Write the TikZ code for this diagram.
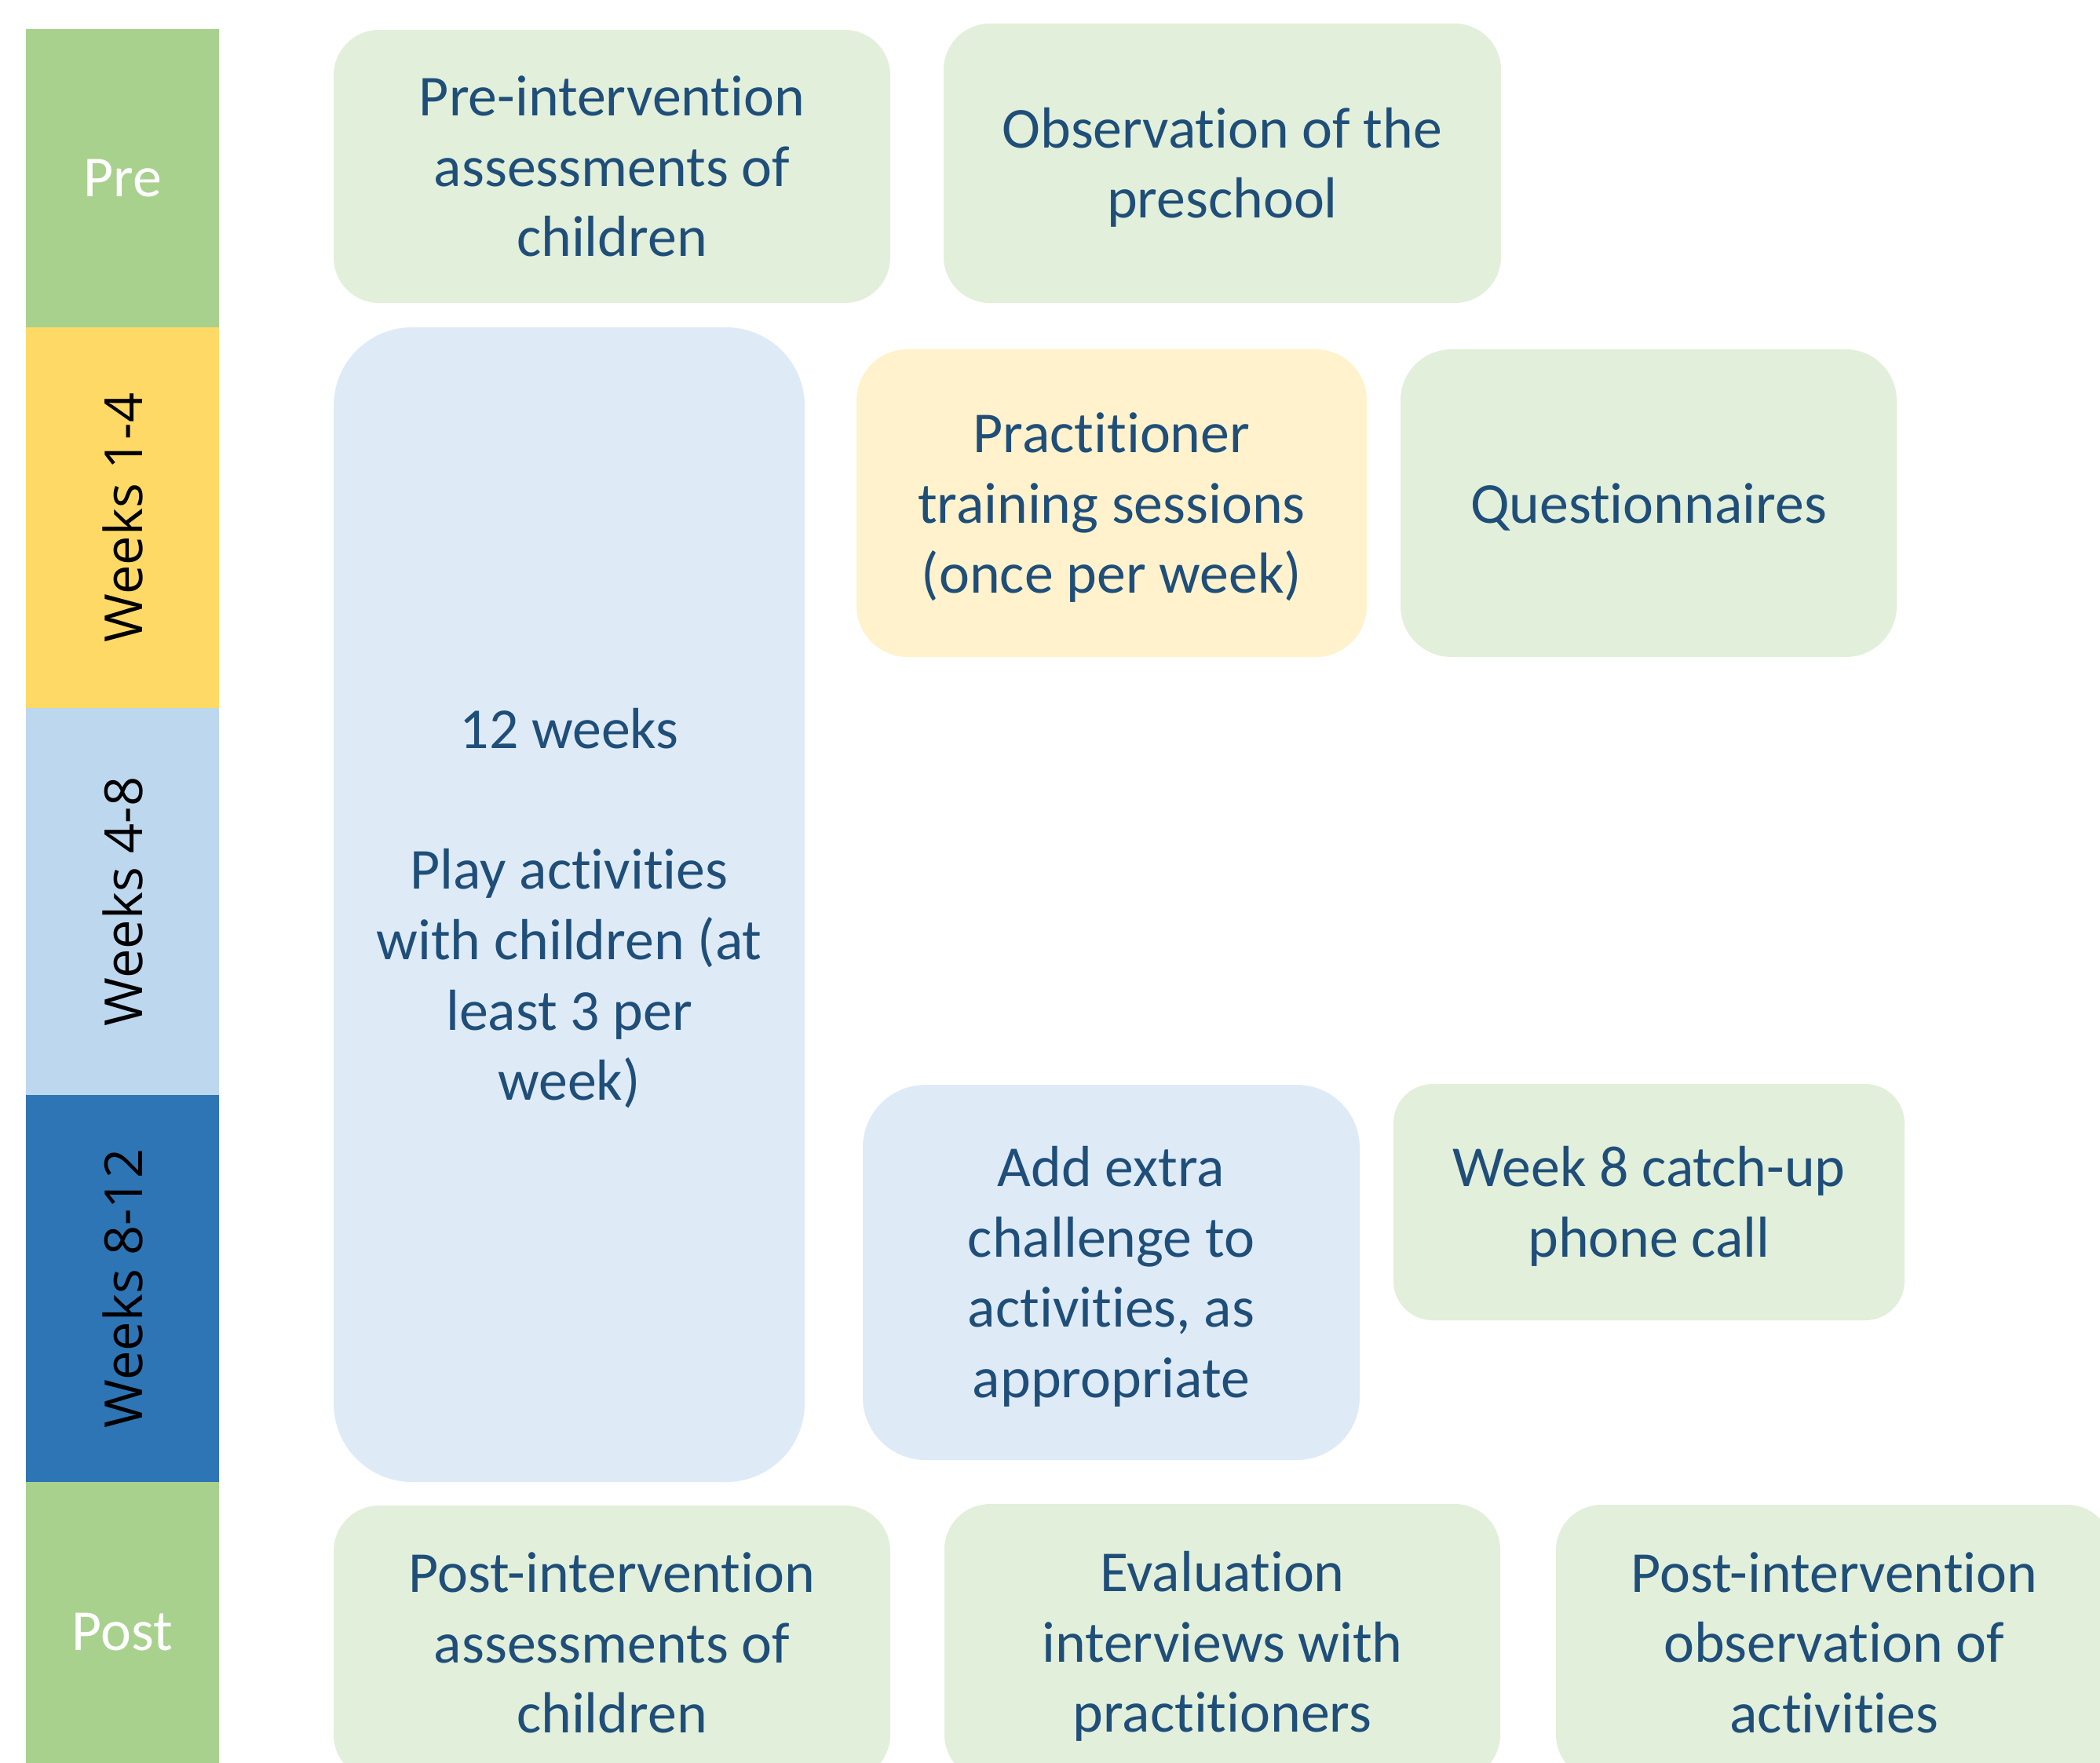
\documentclass[tikz,border=0pt]{standalone}
\usepackage{fontspec}
\setmainfont{Carlito}[Ligatures=NoCommon]
\newfontfamily\weekfont{Open Sans}
\usetikzlibrary{positioning}

\definecolor{phasegreen}{HTML}{A9D18E}
\definecolor{phaseyellow}{HTML}{FFD966}
\definecolor{phaselight}{HTML}{BDD7EE}
\definecolor{phasedark}{HTML}{2E75B6}
\definecolor{boxgreen}{HTML}{E2EFDA}
\definecolor{boxblue}{HTML}{DEEBF7}
\definecolor{boxyellow}{HTML}{FFF2CC}
\definecolor{taskblue}{HTML}{1F4E79}

\newcommand{\taskfont}{\fontsize{21pt}{25.5pt}\selectfont}
% line box of the task text: 19.9pt above the baseline, 5.6pt below
\newcommand{\taskstrut}{\rule[-5.6pt]{0pt}{25.5pt}}

\begin{document}
\begin{tikzpicture}[
  phase/.style={inner sep=0pt, minimum width=2.46cm, text=white, font=\taskfont},
  phaseup/.style={inner sep=0pt, rotate=90, minimum height=2.46cm, font=\weekfont\fontsize{19pt}{23pt}\selectfont},
  task/.style={inner sep=0pt, align=center, text=taskblue, font=\taskfont,
    execute at end node=\taskstrut},
  ]
  \useasboundingbox (0,0) rectangle (26.75,-22.45);
  \clip (0,0) rectangle (26.75,-22.45);

  % Phase bar
  \node[phase, fill=phasegreen, minimum height=3.80cm] (pre) at (1.56,-2.27) {Pre};
  \node[phaseup, fill=phaseyellow, minimum width=4.85cm] (wk14) at (1.56,-6.595) {Weeks 1-4};
  \node[phaseup, fill=phaselight, minimum width=4.93cm] (wk48) at (1.56,-11.485) {Weeks 4-8};
  \node[phaseup, fill=phasedark, minimum width=4.93cm] (wk812) at (1.56,-16.415) {Weeks 8-12};
  \node[phase, fill=phasegreen, minimum height=3.82cm] (post) at (1.56,-20.79) {Post};

  % Pre
  \node[task, fill=boxgreen, rounded corners=0.58cm, minimum width=7.09cm, minimum height=3.48cm]
    (assesspre) at (7.795,-2.12) {\taskstrut Pre-intervention\\assessments of\\children};
  \node[task, fill=boxgreen, rounded corners=0.59cm, minimum width=7.10cm, minimum height=3.56cm]
    (observe) at (15.57,-2.08) {\taskstrut Observation of the\\preschool};

  % Weeks 1-12
  \node[task, fill=boxblue, rounded corners=1.0cm, minimum width=6.00cm, minimum height=14.71cm]
    (play) at (7.25,-11.525) {\taskstrut 12 weeks\\[25.5pt]Play activities\\with children (at\\least 3 per\\week)};
  \node[task, fill=boxyellow, rounded corners=0.65cm, minimum width=6.50cm, minimum height=3.92cm]
    (training) at (14.16,-6.41) {\taskstrut Practitioner\\training sessions\\(once per week)};
  \node[task, fill=boxgreen, rounded corners=0.65cm, minimum width=6.32cm, minimum height=3.92cm]
    (quest) at (21.00,-6.41) {\taskstrut Questionnaires};
  \node[task, fill=boxblue, rounded corners=0.8cm, minimum width=6.33cm, minimum height=4.78cm]
    (challenge) at (14.155,-16.21) {\taskstrut Add extra\\challenge to\\activities, as\\appropriate};
  \node[task, fill=boxgreen, rounded corners=0.5cm, minimum width=6.51cm, minimum height=3.01cm]
    (phone) at (21.005,-15.315) {\taskstrut Week 8 catch-up\\phone call};

  % Post
  \node[task, fill=boxgreen, rounded corners=0.58cm, minimum width=7.09cm, minimum height=3.50cm]
    (assesspost) at (7.795,-20.93) {\taskstrut Post-intervention\\assessments of\\children};
  \node[task, fill=boxgreen, rounded corners=0.58cm, minimum width=7.08cm, minimum height=3.52cm]
    (interview) at (15.57,-20.92) {\taskstrut Evaluation\\interviews with\\practitioners};
  \node[task, fill=boxgreen, rounded corners=0.58cm, minimum width=7.09cm, minimum height=3.51cm]
    (observepost) at (23.365,-20.925) {\taskstrut Post-intervention\\observation of\\activities};
\end{tikzpicture}
\end{document}
